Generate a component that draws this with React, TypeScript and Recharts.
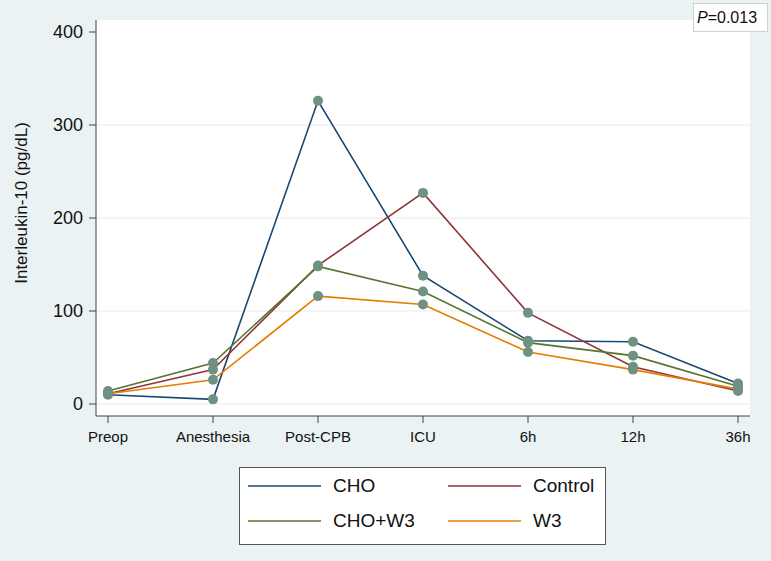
import { LineChart, Line, XAxis, YAxis, CartesianGrid, Legend } from 'recharts';

// time points on the x axis
const timepoints = ['Preop', 'Anesthesia', 'Post-CPB', 'ICU', '6h', '12h', '36h'];

// IL-10 values (pg/dL)
const cho = [10, 5, 326, 138, 68, 67, 22];
const control = [11, 37, 149, 227, 98, 40, 14];
const choW3 = [14, 44, 148, 121, 66, 52, 19];
const w3 = [11, 26, 116, 107, 56, 37, 16];

const yTicks = [0, 100, 200, 300, 400];
const gridValues = [0, 100, 200, 300];

const series = [
  { key: 'cho', name: 'CHO', color: '#1a476f' },
  { key: 'control', name: 'Control', color: '#90353b' },
  { key: 'choW3', name: 'CHO+W3', color: '#55752f' },
  { key: 'w3', name: 'W3', color: '#e37e00' },
];

const rows = timepoints.map((name, i) => ({
  name,
  cho: cho[i],
  control: control[i],
  choW3: choW3[i],
  w3: w3[i],
}));

const DOT = '#6f9181';

const YLabel = () => (
  <text x={27} y={203} transform="rotate(-90 27 203)" textAnchor="middle" fontSize={17} fill="#111">
    Interleukin-10 (pg/dL)
  </text>
);

const renderLegend = () => (
  <div
    style={{
      boxSizing: 'border-box',
      width: 367,
      height: 78,
      background: '#fff',
      border: '1px solid #555',
      position: 'relative',
    }}
  >
    {series.map((s, i) => {
      const col = i % 2;
      const row = Math.floor(i / 2);
      return (
        <div
          key={s.key}
          style={{
            position: 'absolute',
            left: col ? 208 : 8,
            top: row ? 42 : 7,
            height: 22,
            display: 'flex',
            alignItems: 'center',
          }}
        >
          <svg width={73} height={4} style={{ display: 'block' }}>
            <line x1={0} y1={2} x2={73} y2={2} stroke={s.color} strokeWidth={1.6} />
          </svg>
          <span style={{ marginLeft: 12, fontSize: 19, color: '#111' }}>{s.name}</span>
        </div>
      );
    })}
  </div>
);

export default function App() {
  return (
    <div
      style={{
        position: 'absolute',
        left: 0,
        top: 0,
        width: 771,
        height: 561,
        background: '#eaf2f3',
        fontFamily: "Arial, 'Liberation Sans', sans-serif",
      }}
    >
      <LineChart width={771} height={561} data={rows} margin={{ top: 20, right: 21, bottom: 105, left: 36 }}>
        <CartesianGrid vertical={false} horizontalValues={gridValues} stroke="#e3ebee" fill="#fff" />
        <XAxis
          dataKey="name"
          interval={0}
          height={40}
          padding={{ left: 12, right: 12 }}
          tickSize={7}
          tickMargin={8}
          axisLine={{ stroke: '#444' }}
          tickLine={{ stroke: '#444' }}
          tick={{ fill: '#111', fontSize: 15 }}
        />
        <YAxis
          domain={[0, 400]}
          ticks={yTicks}
          width={60}
          padding={{ top: 12, bottom: 12 }}
          tickSize={7}
          tickMargin={6}
          axisLine={{ stroke: '#444' }}
          tickLine={{ stroke: '#444' }}
          tick={{ fill: '#111', fontSize: 18 }}
          label={<YLabel />}
        />
        <Legend
          layout="horizontal"
          verticalAlign="middle"
          align="center"
          content={renderLegend}
          wrapperStyle={{ left: 239, top: 467, width: 367, height: 78 }}
        />
        {series.map((s) => (
          <Line
            key={s.key}
            type="linear"
            dataKey={s.key}
            name={s.name}
            stroke={s.color}
            strokeWidth={1.6}
            dot={false}
            activeDot={false}
            isAnimationActive={false}
          />
        ))}
        {series.map((s) => (
          <Line
            key={s.key + '-dots'}
            type="linear"
            dataKey={s.key}
            legendType="none"
            stroke="none"
            dot={{ r: 5, fill: DOT, stroke: 'none' }}
            activeDot={false}
            isAnimationActive={false}
          />
        ))}
      </LineChart>
      <div
        style={{
          position: 'absolute',
          left: 693,
          top: 3,
          width: 75,
          height: 29,
          boxSizing: 'border-box',
          background: '#fff',
          border: '1px solid #c9d3d6',
          fontSize: 16,
          lineHeight: '27px',
          paddingLeft: 3,
          color: '#111',
        }}
      >
        <i>P</i>=0.013
      </div>
    </div>
  );
}
